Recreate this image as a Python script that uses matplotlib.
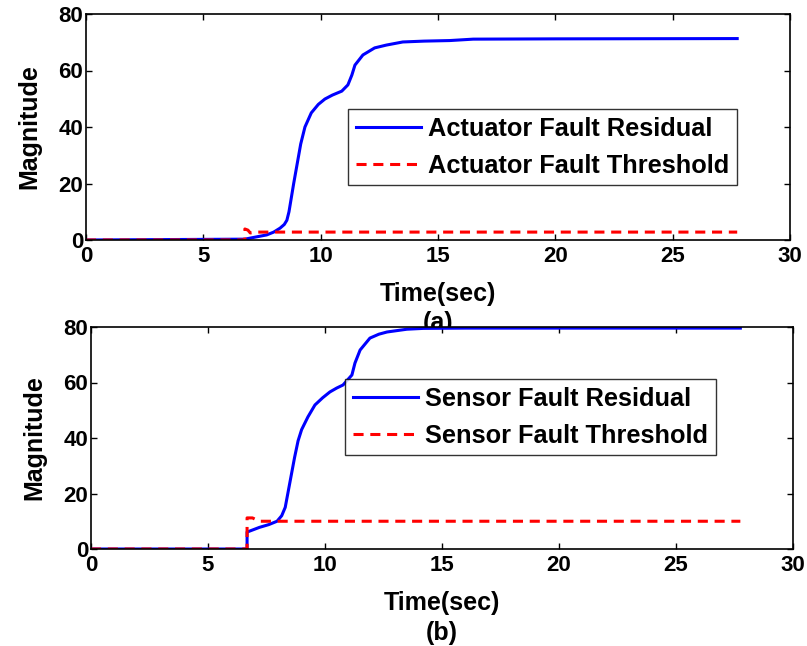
import matplotlib
matplotlib.use("Agg")
import matplotlib.pyplot as plt

plt.rcParams['font.family'] = ['Liberation Sans', 'DejaVu Sans']
plt.rcParams['font.weight'] = 'bold'

# ---- data (a) actuator
t_act_res = [0, 6.77, 7.2, 7.7, 8.0, 8.27, 8.45, 8.56, 8.65, 8.75, 8.85, 9.0, 9.15, 9.33, 9.6, 9.9,
             10.18, 10.5, 10.9, 11.16, 11.33, 11.46, 11.8, 12.3, 12.8, 13.5, 14.4, 15.5, 16.5,
             20, 27.75]
v_act_res = [0, 0.3, 1.0, 1.8, 2.8, 4.2, 5.5, 7.0, 10, 15, 20, 27, 34, 40, 45, 48,
             49.9, 51.3, 52.7, 54.9, 58.4, 61.9, 65.5, 68, 69, 70.1, 70.4, 70.6, 71.1,
             71.2, 71.3]
t_act_thr = [0, 6.77, 6.77, 6.9, 7.0, 7.3, 27.75]
v_act_thr = [0, 0, 3.9, 3.5, 2.5, 2.8, 2.8]

# ---- data (b) sensor
t_sen_res = [0, 6.67, 6.67, 7.2, 7.6, 7.95, 8.15, 8.3, 8.5, 8.7, 8.85, 9.0, 9.27, 9.57, 9.9,
             10.21, 10.5, 10.77, 11.15, 11.28, 11.5, 11.92, 12.3, 12.65, 13.5, 14.2, 16, 27.75]
v_sen_res = [0, 0, 6.1, 7.8, 8.8, 10, 12, 15, 24, 33, 39, 43, 47.6, 51.9, 54.5,
             56.6, 58, 59.1, 62.7, 67, 71.7, 76, 77.4, 78.2, 79.2, 79.5, 79.6, 79.6]
t_sen_thr = [0, 6.67, 6.67, 6.9, 7.2, 27.75]
v_sen_thr = [0, 0, 11.2, 11.2, 10.0, 10.0]

xticks = [0, 5, 10, 15, 20, 25, 30]
yticks = [0, 20, 40, 60, 80]

fig = plt.figure(figsize=(8.07, 6.46), dpi=100)
TFS = 16     # tick labels
LFS = 18     # axis labels
GFS = 18.3   # legend
DASH = (0, (3.3, 2.2))


def style(ax):
    ax.set_xlim(0, 30)
    ax.set_ylim(0, 80)
    ax.set_xticks(xticks)
    ax.set_yticks(yticks)
    ax.tick_params(direction='in', top=True, right=True, length=4, width=1, labelsize=TFS)
    ax.tick_params(axis='x', pad=4)
    ax.tick_params(axis='y', pad=2)
    for lab in ax.get_xticklabels() + ax.get_yticklabels():
        lab.set_fontweight('bold')
    for s in ax.spines.values():
        s.set_linewidth(1.2)
    ax.set_ylabel('Magnitude', fontsize=LFS, fontweight='bold', labelpad=12)
    ax.set_xlabel('Time(sec)', fontsize=LFS, fontweight='bold', labelpad=11)


def legend(ax, x0, y0):
    leg = ax.legend(loc='upper left', bbox_to_anchor=(x0, y0), fontsize=GFS,
                    handlelength=2.56, frameon=True, fancybox=False, edgecolor='black',
                    borderaxespad=0, borderpad=0.3, labelspacing=0.52, handletextpad=0.3)
    leg.get_frame().set_linewidth(1.0)
    return leg


ax1 = fig.add_axes([86/807, 1-240/646, (790-86)/807, (240-14)/646])
ax1.plot(t_act_res, v_act_res, color='#0000ff', lw=2.2, label='Actuator Fault Residual')
ax1.plot(t_act_thr, v_act_thr, color='#ff0000', lw=2.2, ls=DASH, label='Actuator Fault Threshold')
style(ax1)
legend(ax1, (348-86)/704, (240-109)/226)

ax2 = fig.add_axes([91/807, 1-549/646, (793-91)/807, (549-327)/646])
ax2.plot(t_sen_res, v_sen_res, color='#0000ff', lw=2.2, label='Sensor Fault Residual')
ax2.plot(t_sen_thr, v_sen_thr, color='#ff0000', lw=2.2, ls=DASH, label='Sensor Fault Threshold')
style(ax2)
legend(ax2, (345-91)/702, (549-379)/222)

fig.text((86+790)/2/807, 1-323/646, '(a)', ha='center', va='center', fontsize=LFS,
         fontweight='bold', zorder=-1)
fig.text((91+793)/2/807, 1-633/646, '(b)', ha='center', va='center', fontsize=LFS,
         fontweight='bold')

fig.savefig('out.png', dpi=100)
